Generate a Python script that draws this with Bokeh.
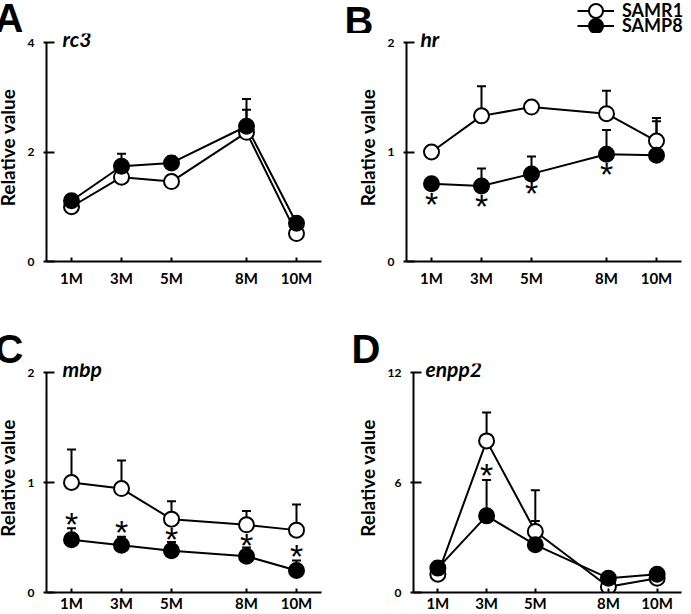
from bokeh.plotting import figure
from bokeh.models import (Whisker, TeeHead, FixedTicker, Range1d, Label,
                          Legend, LegendItem, ColumnDataSource)
from bokeh.layouts import column, row
from bokeh.core.properties import value
from bokeh.embed import file_html
from bokeh.resources import INLINE

# ---------------- data ----------------
months = [1, 3, 5, 8, 10]
month_labels = ["1M", "3M", "5M", "8M", "10M"]

# A: rc3
rc3_samr1 = [1.00, 1.54, 1.46, 2.36, 0.51]
rc3_samr1_err = [0.05, 0.12, 0.12, 0.41, 0.06]
rc3_samp8 = [1.11, 1.74, 1.80, 2.47, 0.70]
rc3_samp8_err = [0.08, 0.23, 0.12, 0.50, 0.06]
rc3_star_x = []
rc3_star_y = []

# B: hr
hr_samr1 = [1.00, 1.33, 1.41, 1.35, 1.10]
hr_samr1_err = [0.02, 0.27, 0.05, 0.21, 0.21]
hr_samp8 = [0.71, 0.69, 0.80, 0.98, 0.97]
hr_samp8_err = [0.03, 0.16, 0.16, 0.22, 0.31]
hr_star_x = [1, 3, 5, 8]
hr_star_y = [0.55, 0.53, 0.65, 0.83]

# C: mbp
mbp_samr1 = [1.00, 0.945, 0.667, 0.615, 0.567]
mbp_samr1_err = [0.30, 0.255, 0.163, 0.125, 0.233]
mbp_samp8 = [0.48, 0.43, 0.38, 0.33, 0.20]
mbp_samp8_err = [0.105, 0.076, 0.08, 0.08, 0.09]
mbp_star_x = [1, 3, 5, 8, 10]
mbp_star_y = [0.65, 0.58, 0.515, 0.46, 0.36]

# D: enpp2
enpp2_samr1 = [1.00, 8.27, 3.33, 0.31, 0.78]
enpp2_samr1_err = [0.2, 1.55, 2.25, 0.1, 0.2]
enpp2_samp8 = [1.33, 4.18, 2.60, 0.78, 1.00]
enpp2_samp8_err = [0.36, 1.95, 1.30, 0.1, 0.15]
enpp2_star_x = [3]
enpp2_star_y = [6.55]

series_names = ["SAMR1", "SAMP8"]
series_fills = ["white", "black"]
panel_letters = ["A", "B", "C", "D"]

FONT = "Lato"
LETTER_FONT = "Liberation Sans"


def style_axes(p, yticks, ymax, xstand):
    xa = p.xaxis[0]
    xa.ticker = FixedTicker(ticks=months)
    xa.major_label_overrides = {m: l for m, l in zip(months, month_labels)}
    xa.major_tick_in = 4
    xa.major_tick_out = 0
    xa.minor_tick_line_color = None
    xa.axis_line_width = 2
    xa.major_tick_line_width = 2
    xa.major_label_text_font = FONT
    xa.major_label_text_font_style = "bold"
    xa.major_label_text_font_size = "15px"
    xa.major_label_text_color = "black"
    xa.major_label_standoff = xstand

    ya = p.yaxis[0]
    ya.ticker = FixedTicker(ticks=yticks)
    ya.bounds = (0, ymax)
    ya.major_tick_in = 8
    ya.major_tick_out = 3
    ya.minor_tick_line_color = None
    ya.axis_line_width = 2
    ya.major_tick_line_width = 2
    ya.major_label_text_font = FONT
    ya.major_label_text_font_style = "bold"
    ya.major_label_text_font_size = "12px"
    ya.major_label_text_color = "black"
    ya.major_label_standoff = 9
    ya.axis_label = "Relative value"
    ya.axis_label_text_font = FONT
    ya.axis_label_text_font_style = "bold"
    ya.axis_label_text_font_size = "19px"
    ya.axis_label_text_color = "black"
    ya.axis_label_standoff = 6


def make_panel(gene, r1, r1e, p8, p8e, ymax, yticks, sx, sy, geom):
    (width, height, left, right, bottom, data_h, xstand, gene_dx) = geom
    frame_h = height - bottom
    y_end = ymax * frame_h / data_h
    p = figure(width=width, height=height, x_range=Range1d(0, 11),
               y_range=Range1d(0, y_end), output_backend="svg",
               toolbar_location=None, min_border_left=left,
               min_border_right=right, min_border_top=0,
               min_border_bottom=bottom)
    p.outline_line_color = None
    p.grid.visible = False
    p.background_fill_color = "white"
    p.border_fill_color = "white"
    style_axes(p, yticks, ymax, xstand)

    p.line(months, r1, line_color="black", line_width=2)
    p.line(months, p8, line_color="black", line_width=2)

    for vals, errs in ((r1, r1e), (p8, p8e)):
        src = ColumnDataSource(dict(x=months, lo=vals,
                                    hi=[v + e for v, e in zip(vals, errs)]))
        w = Whisker(source=src, base="x", lower="lo", upper="hi",
                    dimension="height", line_color="black", line_width=2,
                    lower_head=None,
                    upper_head=TeeHead(size=9, line_width=2,
                                       line_color="black"),
                    level="underlay")
        p.add_layout(w)

    p.scatter(months, r1, size=15, fill_color=series_fills[0],
              line_color="black", line_width=2)
    p.scatter(months, p8, size=15, fill_color=series_fills[1],
              line_color="black", line_width=2)

    if sx:
        p.text(x=sx, y=sy, text=["*"] * len(sx),
               text_font=value(LETTER_FONT), text_font_size=value("34px"),
               text_align="center", text_baseline="middle", y_offset=3,
               text_color="black")

    p.add_layout(Label(x=0, y=ymax, x_offset=gene_dx, y_offset=4,
                       text=gene, text_font=FONT, text_font_size="21px",
                       text_font_style="bold italic",
                       text_baseline="middle", text_align="left",
                       text_color="black"))
    return p


def make_header(height, letters, letter_x, letter_y, legend_rows=None,
                legend_data=None):
    h = figure(width=691, height=height, x_range=Range1d(0, 691),
               y_range=Range1d(0, height), output_backend="svg",
               toolbar_location=None, x_axis_location=None,
               y_axis_location=None, min_border=0)
    h.outline_line_color = None
    h.grid.visible = False
    h.background_fill_color = "white"
    h.border_fill_color = "white"
    for t, lx, ly in zip(letters, letter_x, letter_y):
        h.add_layout(Label(x=lx, y=ly, text=t,
                           text_font=LETTER_FONT, text_font_size="40px",
                           text_font_style="bold",
                           text_baseline="middle", text_align="left",
                           text_color="black"))
    if legend_rows:
        for name, fill, vals, (lx, ly) in zip(series_names, series_fills,
                                              legend_data, legend_rows):
            # hidden renderers that only serve as legend glyph templates
            lr = h.line(months, vals, line_color="black", line_width=2,
                        visible=False)
            sr = h.scatter(months, vals, size=14, fill_color=fill,
                           line_color="black", line_width=2, visible=False)
            leg = Legend(items=[LegendItem(label=name, renderers=[lr, sr])],
                         location=(lx, ly), padding=0, margin=0,
                         spacing=0, glyph_width=37, glyph_height=35,
                         label_standoff=8, label_text_font=FONT,
                         label_text_font_style="bold",
                         label_text_font_size="18px",
                         label_text_color="black",
                         inactive_fill_alpha=0,
                         border_line_color=None, background_fill_alpha=0)
            h.add_layout(leg)
    return h


# geometry: (width, height, left, right, bottom, data_height,
#            x-label standoff, gene label dx)
pA = make_panel("rc3", rc3_samr1, rc3_samr1_err, rc3_samp8, rc3_samp8_err,
                4, [0, 2, 4], rc3_star_x, rc3_star_y,
                (360, 274, 51, 31, 46, 219, 7, 16))
pB = make_panel("hr", hr_samr1, hr_samr1_err, hr_samp8, hr_samp8_err,
                2, [0, 1, 2], hr_star_x, hr_star_y,
                (331, 274, 51, 2, 46, 219, 7, 14))
pC = make_panel("mbp", mbp_samr1, mbp_samr1_err, mbp_samp8, mbp_samp8_err,
                2, [0, 1, 2], mbp_star_x, mbp_star_y,
                (360, 251, 51, 31, 22, 220, 1, 16))
pD = make_panel("enpp2", enpp2_samr1, enpp2_samr1_err, enpp2_samp8,
                enpp2_samp8_err, 12, [0, 6, 12], enpp2_star_x, enpp2_star_y,
                (331, 251, 51, 2, 22, 220, 1, 12))

head1 = make_header(33, panel_letters[:2], [2, 352], [15.5, 13],
                    legend_rows=[(585, 5.5), (585, -9.5)],
                    legend_data=[hr_samr1, hr_samp8])
head2 = make_header(56, panel_letters[2:], [2, 359], [14.5, 14.5])

layout = column(head1, row(pA, pB), head2, row(pC, pD),
                margin=(0, -8, -16, -8))

with open("out.html", "w") as f:
    f.write(file_html(layout, INLINE))
